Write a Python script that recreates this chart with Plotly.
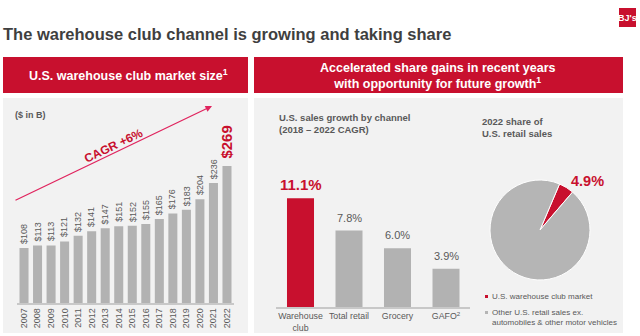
import plotly.graph_objects as go

W, H = 640, 336
FONT = "Liberation Sans, Arial, sans-serif"
RED = "#c8102e"
GRAY_BAR = "#b2b2b2"
TXT = "#595959"
PANEL = "#f2f2f2"

years = ["2007", "2008", "2009", "2010", "2011", "2012", "2013", "2014",
         "2015", "2016", "2017", "2018", "2019", "2020", "2021", "2022"]
market_size = [108, 113, 113, 121, 132, 141, 147, 151, 152, 155, 165, 176, 183, 204, 236, 269]

channels = ["Warehouse<br>club", "Total retail", "Grocery", "GAFO<sup>2</sup>"]
channel_cagr = [11.1, 7.8, 6.0, 3.9]

share_labels = ["U.S. warehouse club market",
                "Other U.S. retail sales ex. automobiles & other motor vehicles"]
share_values = [4.9, 95.1]


def px(x):
    return x / W


def py(y):
    return (H - y) / H


fig = go.Figure()

# left bar chart
fig.add_trace(go.Bar(
    x=years, y=market_size, marker_color=GRAY_BAR, marker_line_width=0, width=0.667,
    xaxis="x", yaxis="y", hoverinfo="skip", showlegend=False))

# right bar chart
fig.add_trace(go.Bar(
    x=channels, y=channel_cagr, width=0.557,
    marker_color=[RED] + [GRAY_BAR] * (len(channels) - 1), marker_line_width=0,
    xaxis="x2", yaxis="y2", hoverinfo="skip", showlegend=False))

# pie
fig.add_trace(go.Pie(
    labels=share_labels, values=share_values, sort=False, direction="clockwise",
    rotation=23, marker=dict(colors=[RED, "#b5b5b5"], line=dict(color="white", width=1)),
    textinfo="none", hoverinfo="skip", showlegend=False,
    domain=dict(x=[px(490), px(590)], y=[py(280), py(180)])))

shapes = [
    # headers
    dict(type="rect", xref="paper", yref="paper", x0=px(3), x1=px(248), y0=py(93), y1=py(57),
         fillcolor=RED, line_width=0, layer="below"),
    dict(type="rect", xref="paper", yref="paper", x0=px(254), x1=px(623), y0=py(93), y1=py(57),
         fillcolor=RED, line_width=0, layer="below"),
    # panels
    dict(type="rect", xref="paper", yref="paper", x0=px(3), x1=px(248), y0=py(333), y1=py(98),
         fillcolor=PANEL, line_width=0, layer="below"),
    dict(type="rect", xref="paper", yref="paper", x0=px(254), x1=px(623), y0=py(333), y1=py(98),
         fillcolor=PANEL, line_width=0, layer="below"),
    # logo
    dict(type="rect", xref="paper", yref="paper", x0=px(619), x1=px(636), y0=py(27), y1=py(8),
         fillcolor=RED, line_width=0),
    # legend squares
    dict(type="rect", xref="paper", yref="paper", x0=px(485), x1=px(488), y0=py(298), y1=py(295),
         fillcolor=RED, line_width=0),
    dict(type="rect", xref="paper", yref="paper", x0=px(485), x1=px(488), y0=py(314), y1=py(311),
         fillcolor="#b5b5b5", line_width=0),
]

annotations = [
    dict(text="<b>The warehouse club channel is growing and taking share</b>", x=px(1), y=py(34),
         xanchor="left", yanchor="middle", font=dict(size=16.5, color="#3f3f3f")),
    dict(text="<b>BJ's</b>", x=px(627.5), y=py(17.5), xanchor="center", yanchor="middle",
         font=dict(size=9, color="white")),
    dict(text="<b>U.S. warehouse club market size<sup>1</sup></b>", x=px(128), y=py(75),
         xanchor="center", yanchor="middle", font=dict(size=12.5, color="white")),
    dict(text="<b>Accelerated share gains in recent years<br>with opportunity for future growth<sup>1</sup></b>",
         x=px(438), y=py(76), xanchor="center", yanchor="middle", font=dict(size=12.5, color="white")),
    dict(text="<b>($ in B)</b>", x=px(13), y=py(115), xanchor="left", yanchor="middle",
         font=dict(size=9, color=TXT)),
    dict(text="<b>CAGR +6%</b>", x=px(113), y=py(146), xanchor="center", yanchor="middle",
         textangle=-25.6, font=dict(size=12, color=RED)),
    # CAGR arrow
    dict(x=px(212), y=py(106), ax=-198, ay=95, axref="pixel", ayref="pixel",
         showarrow=True, arrowhead=2, arrowsize=1,
         arrowwidth=1.3, arrowcolor="#e0245e", text=""),
    dict(text="<b>U.S. sales growth by channel<br>(2018 \u2013 2022 CAGR)</b>", x=px(277), y=py(123),
         xanchor="left", yanchor="middle", align="left", font=dict(size=9.5, color=TXT)),
    dict(text="<b>2022 share of<br>U.S. retail sales</b>", x=px(480), y=py(127),
         xanchor="left", yanchor="middle", align="left", font=dict(size=9.5, color=TXT)),
    dict(text="<b>4.9%</b>", x=px(587), y=py(181), xanchor="center", yanchor="middle",
         font=dict(size=14.5, color=RED)),
    dict(text="U.S. warehouse club market", x=px(490), y=py(296.5), xanchor="left", yanchor="middle",
         font=dict(size=8, color=TXT)),
    dict(text="Other U.S. retail sales ex.<br>automobiles & other motor vehicles", x=px(490), y=py(317.5),
         xanchor="left", yanchor="middle", align="left", font=dict(size=8, color=TXT)),
]

# value labels left chart (category index positions)
for i, v in enumerate(market_size):
    last = i == len(market_size) - 1
    annotations.append(dict(
        text=f"<b>${v}</b>" if last else f"${v}", x=i, y=v, xref="x", yref="y",
        xanchor="center", yanchor="bottom", textangle=-90, showarrow=False,
        yshift=6 if last else 2,
        font=dict(size=15 if last else 9, color=RED if last else TXT)))

# value labels right chart
for i, v in enumerate(channel_cagr):
    first = i == 0
    annotations.append(dict(
        text=f"<b>{v:.1f}%</b>" if first else f"{v:.1f}%", x=i, y=v, xref="x2", yref="y2",
        xanchor="center", yanchor="bottom", showarrow=False, yshift=3 if first else 5,
        font=dict(size=15 if first else 11, color=RED if first else TXT)))

for a in annotations:
    a.setdefault("showarrow", False)
    a.setdefault("xref", "paper")
    a.setdefault("yref", "paper")

fig.update_layout(
    width=W, height=H, margin=dict(l=0, r=0, t=0, b=0, autoexpand=False),
    paper_bgcolor="white", plot_bgcolor="rgba(0,0,0,0)",
    font=dict(family=FONT, color=TXT),
    xaxis=dict(domain=[px(17.25), px(233.75)], type="category", tickangle=-90,
               range=[-0.5, len(years) - 0.5], automargin=False,
               tickfont=dict(size=9, color=TXT), showline=True, linecolor="#c8c8c8", linewidth=1.5,
               ticks="", showgrid=False),
    yaxis=dict(domain=[py(303), py(150.3)], range=[0, 300], visible=False, showgrid=False,
               automargin=False),
    xaxis2=dict(domain=[px(276.25), px(470.25)], type="category", anchor="y2", tickangle=0,
                range=[-0.5, len(channels) - 0.5], automargin=False,
                tickfont=dict(size=8.8, color=TXT), showline=True, linecolor="#c8c8c8", linewidth=1.5,
                ticks="", showgrid=False),
    yaxis2=dict(domain=[py(307), py(179.6)], range=[0, 13], visible=False, anchor="x2",
                showgrid=False, automargin=False),
    shapes=shapes, annotations=annotations,
)

fig.write_html("out.html")
